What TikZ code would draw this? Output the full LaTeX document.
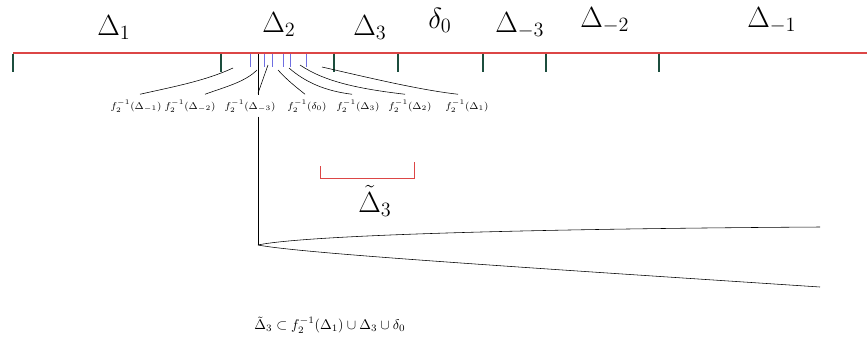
\documentclass[tikz,border=0pt]{standalone}
\usepackage{amsmath}
\usetikzlibrary{positioning, calc}
\definecolor{axe}{RGB}{220,70,70}
\definecolor{borne}{RGB}{28,78,62}
\definecolor{preim}{RGB}{110,110,225}

\begin{document}
\begin{tikzpicture}[
  x=0.025cm, y=-0.025cm,
  grand/.style={font=\huge, inner sep=0pt, anchor=base west},
  petit/.style={font=\fontsize{7.4}{9}\selectfont, inner sep=3pt, anchor=base},
  fil/.style={thin, color=black}
]
  \useasboundingbox (0,0) rectangle (867,337);

  % Axe et bornes
  \coordinate (g) at (13,53);
  \coordinate (d) at (867,53);
  \draw[axe, line width=0.9pt] (g) -- (d);
  \foreach \x in {13,221,334,398,483,546,659}
    \draw[borne, thick] (\x,53.5) -- (\x,72);
  \foreach \x in {250,264,272,283,290,306}
    \draw[preim, semithick] (\x,53.5) -- (\x,67);

  % Intervalles
  \node[grand] (d1) at (97,35) {$\Delta_1$};
  \node[grand] (d2) at (262,32) {$\Delta_2$};
  \node[grand] (d3) at (353,35) {$\Delta_3$};
  \node[grand] (e0) at (428,28) {$\delta_0$};
  \node[grand] (dm3) at (495,32) {$\Delta_{-3}$};
  \node[grand] (dm2) at (580,27) {$\Delta_{-2}$};
  \node[grand] (dm1) at (747,27) {$\Delta_{-1}$};

  % Préimages par f_2
  \node[petit] (pm1) at (136,109) {$f_2^{-1}(\Delta_{-1})$};
  \node[petit] (pm2) at (190,109) {$f_2^{-1}(\Delta_{-2})$};
  \node[petit] (pm3) at (250,109) {$f_2^{-1}(\Delta_{-3})$};
  \node[petit] (p0) at (307,109) {$f_2^{-1}(\delta_0)$};
  \node[petit] (p3) at (358,109) {$f_2^{-1}(\Delta_3)$};
  \node[petit] (p2) at (410,109) {$f_2^{-1}(\Delta_2)$};
  \node[petit] (p1) at (467,109) {$f_2^{-1}(\Delta_1)$};

  \coordinate (hm1) at (233,68);
  \coordinate (hm2) at (257,70);
  \coordinate (hm3) at (258,54);
  \coordinate (hm3b) at (268,65);
  \coordinate (h0) at (278,70);
  \coordinate (h3) at (289,68);
  \coordinate (h2) at (300,65);
  \coordinate (h1) at (322,67);

  \draw[fil] (hm1) .. controls (205,81) and (172,87) .. ($(pm1.north)+(4,-1)$);
  \draw[fil] (hm2) .. controls (245,82) and (225,87) .. ($(pm2.north)+(15,-1)$);
  \draw[fil] (hm3) -- (pm3.north -| hm3);
  \draw[fil] (hm3b) -- ($(pm3.north)+(8,-2)$);
  \draw[fil] (h0) .. controls (287,80) and (296,87) .. ($(p0.north)+(-2,-1)$);
  \draw[fil] (h3) .. controls (305,82) and (325,91) .. ($(p3.north)+(-6,-1)$);
  \draw[fil] (h2) .. controls (325,82) and (360,89) .. ($(p2.north)+(-5,-1)$);
  \draw[fil] (h1) .. controls (370,78) and (420,90) .. ($(p1.north)+(-9,-1)$);

  % Image de Delta_3 tilde
  \coordinate (pointe) at (258,245);
  \coordinate (haut) at (820,227);
  \coordinate (bas) at (820,287);
  \draw[fil] (pm3.south -| pointe) -- (pointe);
  \draw[fil] (pointe) .. controls (300,236) and (500,229) .. (haut);
  \draw[fil] (pointe) .. controls (300,253) and (500,266) .. (bas);

  \draw[axe] (320,166) -- (320,178) -- (414,178) -- (414,162);
  \node[font=\huge, inner sep=0pt] (dt3) at (375,201) {$\tilde\Delta_3$};

  \node (incl) at (330,325) {$\tilde\Delta_3\subset f_2^{-1}(\Delta_1)\cup\Delta_3\cup\delta_0$};
\end{tikzpicture}
\end{document}
